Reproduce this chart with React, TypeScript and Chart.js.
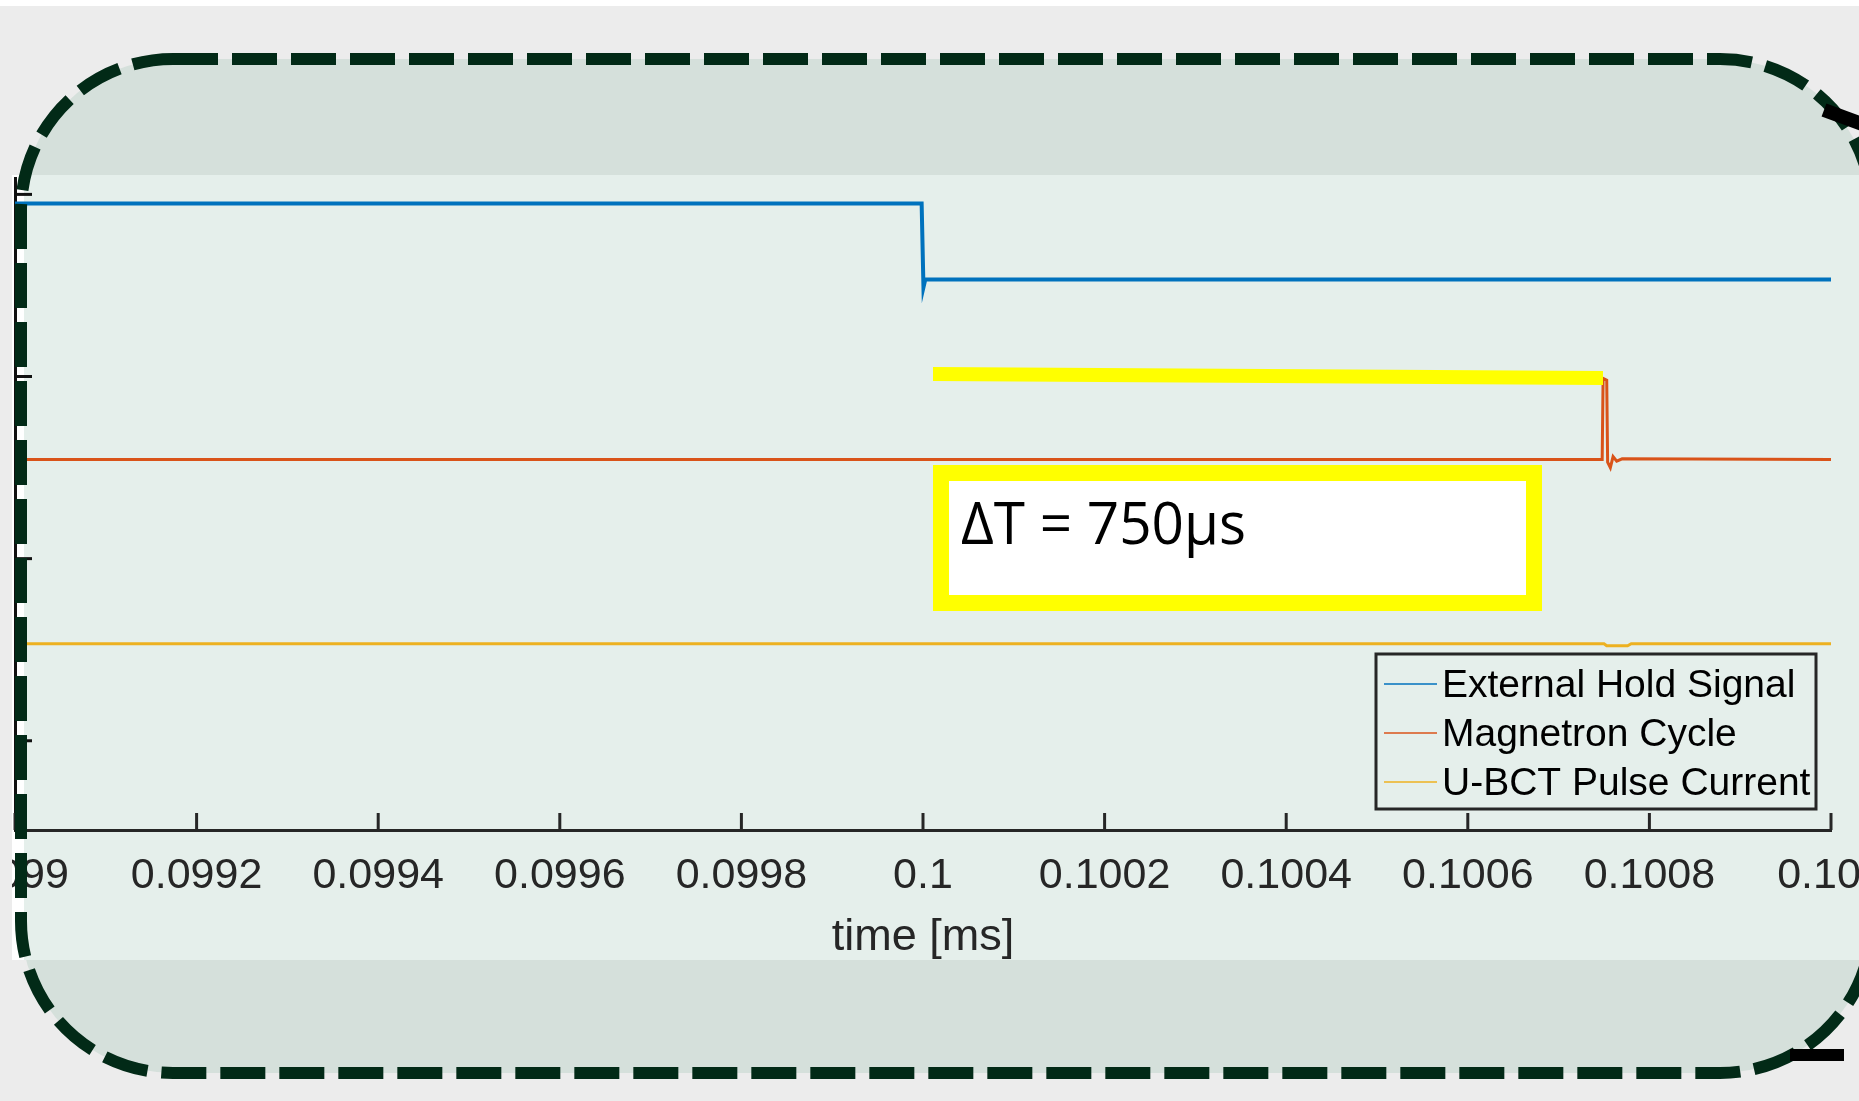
import React, { useEffect, useRef } from "react";
import { Chart, registerables } from "chart.js";

Chart.register(...registerables);

// ---- data ----
const xTickValues = [0.099, 0.0992, 0.0994, 0.0996, 0.0998, 0.1, 0.1002, 0.1004, 0.1006, 0.1008, 0.101];
const xTickLabels = ["0.099", "0.0992", "0.0994", "0.0996", "0.0998", "0.1", "0.1002", "0.1004", "0.1006", "0.1008", "0.101"];
const yTickValues = [0, 1, 2, 3];
const seriesNames = ["External Hold Signal", "Magnetron Cycle", "U-BCT Pulse Current"];
const seriesColors = ["#0072BD", "#D95319", "#EDB120"];

const holdX = [0.099, 0.0999985, 0.1000005, 0.1000025, 0.101];
const holdY = [2.95, 2.95, 2.49, 2.533, 2.533];

const magX = [0.099, 0.100748, 0.100749, 0.100753, 0.100754, 0.100757, 0.10076, 0.100764, 0.10077, 0.101];
const magY = [1.544, 1.544, 1.99, 1.98, 1.53, 1.50, 1.56, 1.535, 1.548, 1.544];

const bctX = [0.099, 0.10075, 0.100753, 0.100776, 0.10078, 0.101];
const bctY = [0.533, 0.533, 0.522, 0.522, 0.533, 0.533];

const xLabel = "time [ms]";
const noteText = "ΔT = 750μs";

const W = 1859;
const H = 1101;

function roundRectPath(ctx: CanvasRenderingContext2D, x: number, y: number, w: number, h: number, r: number) {
  ctx.beginPath();
  ctx.moveTo(x + r, y);
  ctx.lineTo(x + w - r, y);
  ctx.arcTo(x + w, y, x + w, y + r, r);
  ctx.lineTo(x + w, y + h - r);
  ctx.arcTo(x + w, y + h, x + w - r, y + h, r);
  ctx.lineTo(x + r, y + h);
  ctx.arcTo(x, y + h, x, y + h - r, r);
  ctx.lineTo(x, y + r);
  ctx.arcTo(x, y, x + r, y, r);
  ctx.closePath();
}

const PANEL = { x: 21, y: 59, w: 1851, h: 1014, r: 152 };

const decorPlugin = {
  id: "decor",
  beforeDraw(chart: any) {
    const ctx: CanvasRenderingContext2D = chart.ctx;
    ctx.save();
    ctx.fillStyle = "#ececec";
    ctx.fillRect(0, 0, W, H);
    ctx.fillStyle = "#ffffff";
    ctx.fillRect(0, 0, W, 6);
    // rounded panel fill
    roundRectPath(ctx, PANEL.x, PANEL.y, PANEL.w, PANEL.h, PANEL.r);
    ctx.fillStyle = "#d5e0db";
    ctx.fill();
    // screenshot of plot
    ctx.fillStyle = "#e5efeb";
    ctx.fillRect(12, 175, W - 12, 785);
    ctx.fillStyle = "#ffffff";
    ctx.fillRect(12, 175, 12, 785);
    ctx.restore();
  },
  afterDraw(chart: any) {
    const ctx: CanvasRenderingContext2D = chart.ctx;
    const xs = chart.scales.x;
    const ys = chart.scales.y;
    const area = chart.chartArea;
    ctx.save();
    // clip left edge of screenshot
    ctx.fillStyle = "#ececec";
    ctx.fillRect(0, 175, 12, 785);

    // inward ticks
    ctx.strokeStyle = "#262626";
    ctx.lineWidth = 3;
    xTickValues.forEach((v) => {
      const px = xs.getPixelForValue(v);
      ctx.beginPath();
      ctx.moveTo(px, area.bottom);
      ctx.lineTo(px, area.bottom - 17);
      ctx.stroke();
    });
    ctx.strokeStyle = "#111111";
    yTickValues.forEach((v) => {
      const py = ys.getPixelForValue(v);
      ctx.beginPath();
      ctx.moveTo(area.left, py);
      ctx.lineTo(area.left + 17, py);
      ctx.stroke();
    });

    // legend
    const lx = 1376, ly = 654, lw = 440, lh = 155;
    ctx.fillStyle = "#e5efeb";
    ctx.fillRect(lx, ly, lw, lh);
    ctx.strokeStyle = "#262626";
    ctx.lineWidth = 3;
    ctx.strokeRect(lx, ly, lw, lh);
    ctx.font = "39px 'Liberation Sans', Arial, sans-serif";
    ctx.textBaseline = "middle";
    ctx.textAlign = "left";
    chart.data.datasets.forEach((ds: any, i: number) => {
      const ry = 684 + i * 49;
      ctx.strokeStyle = ds.borderColor;
      ctx.globalAlpha = 0.75;
      ctx.lineWidth = 2;
      ctx.beginPath();
      ctx.moveTo(1384, ry);
      ctx.lineTo(1437, ry);
      ctx.stroke();
      ctx.globalAlpha = 1;
      ctx.fillStyle = "#000000";
      ctx.fillText(ds.label, 1442, ry + 2);
    });

    // yellow highlight bar
    ctx.fillStyle = "#ffff00";
    ctx.beginPath();
    ctx.moveTo(933, 367);
    ctx.lineTo(1603, 371);
    ctx.lineTo(1603, 385);
    ctx.lineTo(933, 381);
    ctx.closePath();
    ctx.fill();

    // annotation box
    ctx.fillStyle = "#ffff00";
    ctx.fillRect(933, 465, 609, 146);
    ctx.fillStyle = "#ffffff";
    ctx.fillRect(949, 481, 577, 114);
    ctx.fillStyle = "#000000";
    ctx.font = "58px 'Open Sans', 'Noto Sans', sans-serif";
    ctx.textBaseline = "alphabetic";
    const tw = ctx.measureText(noteText).width;
    const sx = 285 / tw;
    ctx.save();
    ctx.translate(961, 544);
    ctx.scale(sx, 1);
    ctx.fillText(noteText, 0, 0);
    ctx.restore();

    // dashed rounded border
    roundRectPath(ctx, PANEL.x, PANEL.y, PANEL.w, PANEL.h, PANEL.r);
    ctx.setLineDash([45, 14]);
    ctx.lineDashOffset = 0;
    ctx.lineWidth = 12;
    ctx.strokeStyle = "#022a17";
    ctx.stroke();
    ctx.setLineDash([]);

    // stray black connector segments
    ctx.strokeStyle = "#000000";
    ctx.lineWidth = 14;
    ctx.beginPath();
    ctx.moveTo(1824, 110);
    ctx.lineTo(1862, 124);
    ctx.stroke();
    ctx.fillStyle = "#000000";
    ctx.fillRect(1790, 1049, 54, 12);
    ctx.restore();
  },
};

export default function App() {
  const ref = useRef<HTMLCanvasElement | null>(null);
  useEffect(() => {
    const canvas = ref.current;
    if (!canvas) return;
    const mk = (xs: number[], ys: number[]) => xs.map((x, i) => ({ x, y: ys[i] }));
    const chart = new Chart(canvas, {
      type: "line",
      data: {
        datasets: [
          { label: seriesNames[0], data: mk(holdX, holdY), borderColor: seriesColors[0], borderWidth: 4, pointRadius: 0, tension: 0 },
          { label: seriesNames[1], data: mk(magX, magY), borderColor: seriesColors[1], borderWidth: 3, pointRadius: 0, tension: 0 },
          { label: seriesNames[2], data: mk(bctX, bctY), borderColor: seriesColors[2], borderWidth: 3, pointRadius: 0, tension: 0 },
        ],
      },
      options: {
        animation: false,
        responsive: false,
        events: [],
        layout: { padding: { top: 178, right: 28, left: 0, bottom: 0 } },
        scales: {
          x: {
            type: "linear",
            min: 0.099,
            max: 0.101,
            afterBuildTicks: (s: any) => {
              s.ticks = xTickValues.map((v) => ({ value: v }));
            },
            afterFit: (s: any) => {
              s.height = 271;
              s.paddingLeft = 0;
              s.paddingRight = 0;
            },
            ticks: {
              autoSkip: false,
              maxRotation: 0,
              minRotation: 0,
              padding: 20,
              color: "#262626",
              font: { family: "'Liberation Sans', Arial, sans-serif", size: 43 },
              callback: (_v: any, i: number) => xTickLabels[i],
            },
            grid: { display: false, drawTicks: false },
            border: { display: true, color: "#262626", width: 3 },
            title: {
              display: true,
              text: xLabel,
              color: "#262626",
              font: { family: "'Liberation Sans', Arial, sans-serif", size: 45 },
              padding: { top: 0, bottom: 136 },
            },
          },
          y: {
            type: "linear",
            min: -0.49,
            max: 3.09,
            afterBuildTicks: (s: any) => {
              s.ticks = yTickValues.map((v) => ({ value: v }));
            },
            afterFit: (s: any) => {
              s.width = 15;
            },
            ticks: { display: false },
            grid: { display: false, drawTicks: false },
            border: { display: true, color: "#111111", width: 3 },
          },
        },
        plugins: { legend: { display: false }, tooltip: { enabled: false } },
      },
      plugins: [decorPlugin],
    } as any);
    return () => chart.destroy();
  }, []);
  return (
    <div style={{ position: "fixed", left: 0, top: 0, width: W, height: H }}>
      <canvas ref={ref} width={W} height={H} style={{ display: "block", width: W, height: H }} />
    </div>
  );
}
